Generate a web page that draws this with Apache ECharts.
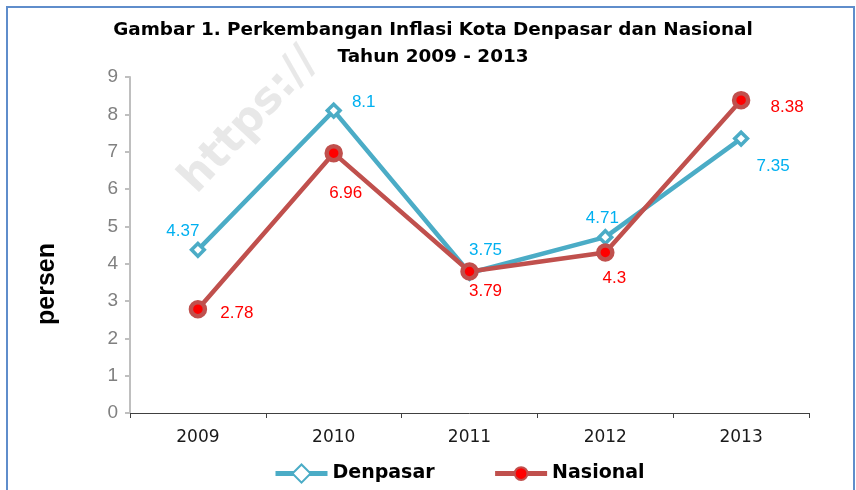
<!DOCTYPE html>
<html>
<head>
<meta charset="utf-8">
<script src="https://cdn.jsdelivr.net/npm/echarts@6/dist/echarts.min.js"></script>
<style>html,body{margin:0;padding:0;background:#fff;}#c{width:856px;height:490px;}</style>
</head>
<body>
<div id="c"></div>
<script>
const years = ['2009', '2010', '2011', '2012', '2013'];
const denpasar = [4.37, 8.1, 3.75, 4.71, 7.35];
const nasional = [2.78, 6.96, 3.79, 4.3, 8.38];
const yTicks = { min: 0, max: 9, interval: 1 };

// label offsets (styling, kept separate from data)
const denOffsets = [[-15, -19], [30, -8], [16, -23], [-3, -19], [32, 28]];
const nasOffsets = [[39, 4], [12, 40], [16, 20], [9, 26], [46, 7]];

const chart = echarts.init(document.getElementById('c'));
const font = 'DejaVu Sans';

function items(vals, offs) {
  return vals.map((v, i) => ({ value: v, label: { offset: offs[i] } }));
}

chart.setOption({
  animation: false,
  title: {
    text: 'Gambar 1. Perkembangan Inflasi Kota Denpasar dan Nasional\nTahun 2009 - 2013',
    left: 428, textAlign: 'center', top: 12,
    textStyle: { fontFamily: font, fontSize: 18.4, fontWeight: 'bold', color: '#000', lineHeight: 27 }
  },
  graphic: [
    { type: 'rect', shape: { x: 7, y: 7, width: 847, height: 500 }, style: { fill: 'none', stroke: '#5f8dcb', lineWidth: 2 }, z: 100 },
    { type: 'text', x: 172, y: 172, rotation: 47 * Math.PI / 180,
      style: { text: 'https://', fontFamily: font, fontSize: 44, fontWeight: 'bold', fill: 'rgba(205,205,205,0.45)' }, z: 0 },
    { type: 'text', x: 47, y: 284, rotation: Math.PI / 2,
      style: { text: 'persen', fontFamily: 'Liberation Sans', fontSize: 25, fontWeight: 'bold', fill: '#000',
               align: 'center', verticalAlign: 'middle' } }
  ],
  legend: {
    bottom: 1, left: 268, itemWidth: 52, itemHeight: 16, itemGap: 58,
    lineStyle: { width: 5 },
    textStyle: { fontFamily: font, fontSize: 19, fontWeight: 'bold', color: '#000' },
    data: ['Denpasar', 'Nasional']
  },
  grid: { left: 130, right: 47, top: 77, bottom: 77 },
  xAxis: {
    type: 'category', data: years, boundaryGap: true,
    axisLine: { lineStyle: { color: '#404040', width: 1 } },
    axisTick: { show: true, length: 5, lineStyle: { color: '#404040' } },
    axisLabel: { fontFamily: font, fontSize: 17, color: '#1a1a1a', margin: 16 }
  },
  yAxis: {
    type: 'value', min: yTicks.min, max: yTicks.max, interval: yTicks.interval,
    axisLine: { show: true, lineStyle: { color: '#bfbfbf', width: 2 } },
    axisTick: { show: true, length: 5, lineStyle: { color: '#bfbfbf', width: 2 } },
    splitLine: { show: false },
    axisLabel: { fontFamily: 'Liberation Sans', fontSize: 19, color: '#808080', margin: 12 }
  },
  series: [
    {
      name: 'Denpasar', type: 'line', data: items(denpasar, denOffsets),
      lineStyle: { color: '#4bacc6', width: 4.5 },
      itemStyle: { color: '#fff', borderColor: '#4bacc6', borderWidth: 3.5 },
      symbol: 'rect', symbolSize: 9, symbolRotate: 45, z: 3,
      label: { show: true, position: 'inside', fontFamily: 'Liberation Sans', fontSize: 17, color: '#00b0f0' }
    },
    {
      name: 'Nasional', type: 'line', data: items(nasional, nasOffsets),
      lineStyle: { color: '#c0504d', width: 4.5 },
      itemStyle: { color: '#ff0000', borderColor: '#c0504d', borderWidth: 4.5 },
      symbol: 'circle', symbolSize: 14, z: 4,
      label: { show: true, position: 'inside', fontFamily: 'Liberation Sans', fontSize: 17, color: '#ff0000' }
    }
  ]
});
</script>
</body>
</html>
